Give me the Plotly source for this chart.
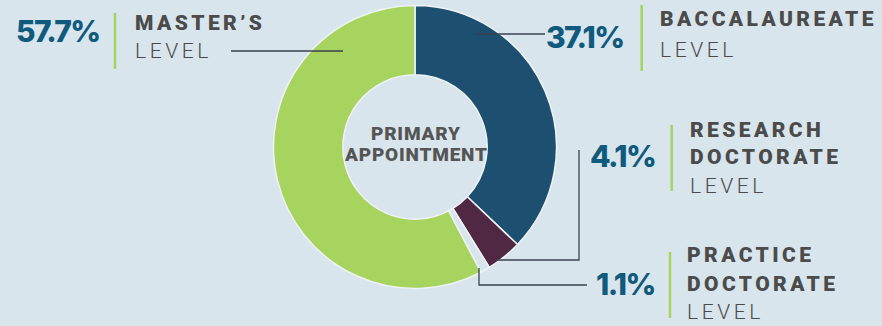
import plotly.graph_objects as go

# Faculty primary appointment by program level
levels = ["Baccalaureate", "Research Doctorate", "Practice Doctorate", "Master's"]
shares = [37.1, 4.1, 1.1, 57.7]
slice_colors = ["#1c4f70", "#512843", "#d9e5ec", "#a6d45e"]

pct_labels = ["37.1%", "4.1%", "1.1%", "57.7%"]
head_lines = [["BACCALAUREATE"], ["RESEARCH", "DOCTORATE"], ["PRACTICE", "DOCTORATE"], ["MASTER\u2019S"]]
center_lines = ["PRIMARY", "APPOINTMENT"]

W, H = 882, 326
BG = "#d9e5ec"
PCT_COLOR = "#0f5a7d"
HEAD_COLOR = "#4b4b4b"
ACCENT = "#a6d45e"
LEADER = "#3b4150"


def px(x):
    return x / W


def py(y):
    return 1 - y / H


# donut geometry (pixels)
cx, cy, R = 415, 147, 141.5

fig = go.Figure(
    go.Pie(
        labels=levels,
        values=shares,
        sort=False,
        direction="clockwise",
        rotation=0,
        hole=0.51,
        marker=dict(colors=slice_colors, line=dict(color="#eef3f6", width=1.5)),
        textinfo="none",
        hovertemplate="%{label}: %{value}%<extra></extra>",
        domain=dict(x=[px(cx - R), px(cx + R)], y=[py(cy + R), py(cy - R)]),
    )
)

annotations = []


def add_text(text, x, y, size, color, family, weight, spacing, xanchor="left"):
    annotations.append(
        dict(
            text=f'<span style="letter-spacing:{spacing}px">{text}</span>',
            x=px(x), y=py(y), xref="paper", yref="paper",
            xanchor=xanchor, yanchor="middle", showarrow=False,
            font=dict(size=size, color=color, family=family, weight=weight),
        )
    )


# label blocks: (percent right edge, percent mid y, accent x, accent y-range, text x, line mid ys)
blocks = [
    dict(px_r=626, py_m=37, ax=641.7, ay=(5, 71), tx=658, ys=[19.5, 49.5]),
    dict(px_r=657, py_m=156, ax=671.7, ay=(125, 191), tx=688, ys=[129.5, 157, 185.5]),
    dict(px_r=657, py_m=284, ax=670, ay=(252, 318), tx=685, ys=[254.5, 283.5, 312]),
    dict(px_r=102, py_m=31, ax=115, ay=(13, 69), tx=133, ys=[23, 51]),
]

shapes = []
for pct, heads, b in zip(pct_labels, head_lines, blocks):
    add_text(pct, b["px_r"], b["py_m"], 30, PCT_COLOR, "Inter", 800, -1.6, xanchor="right")
    for line, yy in zip(heads, b["ys"]):
        add_text(line, b["tx"], yy, 21, HEAD_COLOR, "Roboto", 900, 3.4)
    add_text("LEVEL", b["tx"], b["ys"][-1], 21, HEAD_COLOR, "Roboto", 300, 3.6)
    shapes.append(dict(type="line", xref="paper", yref="paper",
                       x0=px(b["ax"]), x1=px(b["ax"]), y0=py(b["ay"][0]), y1=py(b["ay"][1]),
                       line=dict(color=ACCENT, width=2.5)))

# leader lines from slices to their labels
leaders = [
    [(476, 34), (545, 34)],
    [(496, 260), (579, 260), (579, 150)],
    [(479, 268), (479, 285), (587, 285)],
    [(343, 51), (231, 51)],
]
for pts in leaders:
    path = "M " + " L ".join(f"{px(x):.5f},{py(y):.5f}" for x, y in pts)
    shapes.append(dict(type="path", xref="paper", yref="paper", path=path,
                       line=dict(color=LEADER, width=1.3)))

# centre caption
for line, yy in zip(center_lines, [133, 155]):
    add_text(line, cx + 1, yy, 19, "#555555", "Roboto", 900, 0.8, xanchor="center")

fig.update_layout(
    width=W, height=H,
    margin=dict(l=0, r=0, t=0, b=0),
    paper_bgcolor=BG, plot_bgcolor=BG,
    showlegend=False,
    annotations=annotations,
    shapes=shapes,
)

fig.write_html("out.html")
